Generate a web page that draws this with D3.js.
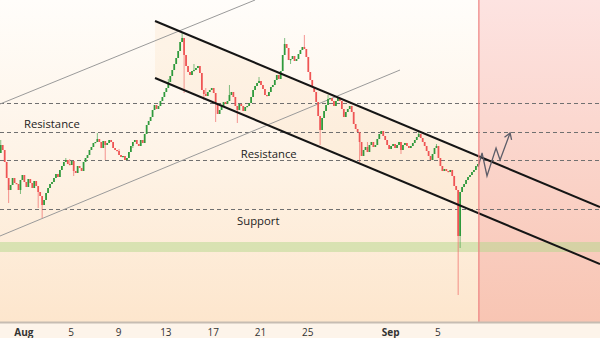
<!DOCTYPE html>
<html><head><meta charset="utf-8">
<script src="https://cdn.jsdelivr.net/npm/d3@7"></script>
<style>html,body{margin:0;padding:0;background:#fdf4ea;} svg{display:block;}</style>
</head><body><svg id="c" width="600" height="338"></svg>
<script>
// ---------------- DATA ----------------
const firstCandle = "2021-07-30T00:00";   // 4h candles
const candleHours = 4;
const firstOpen = 247;
const closes = [
255,250,238,222,210,215,222,217,216,210,220,225,218,213,221,217,212,219,214,208,
204,195,200,207,212,216,218,222,226,223,230,234,238,240,236,235,239,229,227,234,
232,229,238,242,245,250,253,257,258,261,258,252,259,255,257,260,258,252,250,249,
245,243,244,240,242,248,254,258,260,256,254,260,257,266,275,279,283,290,295,291,
294,299,303,308,312,318,324,330,336,342,349,358,362,345,334,328,325,329,330,332,
334,327,310,306,304,308,310,312,307,297,286,290,294,298,296,299,305,308,303,294,
290,296,294,289,293,294,297,303,310,314,317,319,315,311,305,304,308,313,315,320,
325,321,329,345,356,352,340,341,344,339,341,346,350,353,351,343,328,320,313,308,
298,284,270,282,289,295,301,302,299,294,299,302,299,291,283,288,291,294,288,276,
271,268,258,244,250,253,248,255,258,253,255,261,266,269,264,260,255,251,254,256,
252,255,258,250,255,257,254,252,254,257,260,263,266,262,258,254,249,244,240,246,
252,254,242,234,229,231,229,228,230,224,214,210,164,208,213,216,220,223,225,228,
230,234,236
];
const wickHighs = [[0,260],[12,224],[33,242],[35,241],[49,267],[60,251],[85,321],[92,368],[98,336],[104,312],[116,315],[131,323],[144,362],[154,365],[166,305],[186,258],[212,268],[221,256]];
const wickLows  = [[4,197],[10,206],[19,192],[21,182],[37,224],[53,240],[67,252],[93,307],[103,300],[109,278],[120,277],[147,336],[162,255],[182,238],[203,246],[232,105],[233,152]];

const levels = [297, 268, 240, 191];            // dashed horizontal levels
const supportZone = [148, 158];                   // green band (price range)
const channelUpper = [["2021-08-12T03:00", 379], ["2021-09-18T17:45", 193]];
const channelLower = [["2021-08-12T03:00", 322], ["2021-09-18T17:45", 136]];
const trendThin1 = [["2021-07-30T00:30", 296], ["2021-08-20T14:00", 400]];
const trendThin2 = [["2021-07-30T00:30", 164], ["2021-09-01T20:00", 330]];
const projection = [["2021-09-08T10:20",233],["2021-09-08T18:30",247],["2021-09-09T04:30",224],["2021-09-09T22:50",252],["2021-09-10T07:00",240],["2021-09-11T03:20",267]];
const forecastStart = "2021-09-08T12:00";
const textLabels = [
  {text:"Resistance", t:"2021-08-01T01:00", p:272},
  {text:"Resistance", t:"2021-08-19T09:00", p:242},
  {text:"Support",    t:"2021-08-19T01:30", p:175}
];
const tickDates  = ["2021-08-01","2021-08-05","2021-08-09","2021-08-13","2021-08-17","2021-08-21","2021-08-25","2021-09-01","2021-09-05"];
const tickLabels = ["Aug","5","9","13","17","21","25","Sep","5"];
const monthTicks = ["Aug","Sep"];

// ---------------- CHART ----------------
const W = 600, H = 338, plotH = 322;
const parse = s => new Date(s);
const svg = d3.select("#c");
const x = d3.scaleTime().domain([parse("2021-07-30T00:30"), parse("2021-09-18T17:45")]).range([0, W]);
const y = d3.scaleLinear().domain([78, 400]).range([plotH, 0]);

const defs = svg.append("defs");
const g1 = defs.append("linearGradient").attr("id","bgG").attr("x1",0).attr("y1",0).attr("x2",0).attr("y2",1);
g1.append("stop").attr("offset",0).attr("stop-color","#fffdfa");
g1.append("stop").attr("offset",0.5).attr("stop-color","#fef3e6");
g1.append("stop").attr("offset",1).attr("stop-color","#fde6cd");
const g2 = defs.append("linearGradient").attr("id","pkG").attr("x1",0).attr("y1",0).attr("x2",0).attr("y2",1);
g2.append("stop").attr("offset",0).attr("stop-color","#fde3e1");
g2.append("stop").attr("offset",1).attr("stop-color","#f8c5b3");
defs.append("clipPath").attr("id","clip").append("rect").attr("width",W).attr("height",plotH);

svg.append("rect").attr("width",W).attr("height",H).attr("fill","#fdf4ea");
svg.append("rect").attr("width",W).attr("height",plotH).attr("fill","url(#bgG)");
const xf = x(parse(forecastStart));
svg.append("rect").attr("x",xf).attr("y",0).attr("width",W-xf).attr("height",plotH).attr("fill","url(#pkG)");

const plot = svg.append("g").attr("clip-path","url(#clip)");

function lineAt(seg, t){
  const t0 = parse(seg[0][0]).getTime(), t1 = parse(seg[1][0]).getTime();
  return seg[0][1] + (seg[1][1]-seg[0][1])*(t - t0)/(t1 - t0);
}
// channel fill
const cs = parse(channelUpper[0][0]).getTime(), ce = parse(forecastStart).getTime();
const poly = [[cs, lineAt(channelUpper,cs)],[ce, lineAt(channelUpper,ce)],[ce, lineAt(channelLower,ce)],[cs, lineAt(channelLower,cs)]];
plot.append("path").attr("d","M"+poly.map(d=>[x(new Date(d[0])), y(d[1])].join(",")).join("L")+"Z")
  .attr("fill","#f8d4a8").attr("opacity",0.18);

// support band
plot.append("rect").attr("x",0).attr("width",W).attr("y",y(supportZone[1])).attr("height",y(supportZone[0])-y(supportZone[1]))
  .attr("fill","#b3d88c").attr("opacity",0.5);

// dashed levels
plot.selectAll(".lvl").data(levels).join("line").attr("x1",0).attr("x2",W)
  .attr("y1",d=>Math.round(y(d))+0.5).attr("y2",d=>Math.round(y(d))+0.5)
  .attr("stroke","#707070").attr("stroke-width",1).attr("stroke-dasharray","4,3");

// thin trend lines
[trendThin1, trendThin2].forEach(seg=>{
  plot.append("line").attr("x1",x(parse(seg[0][0]))).attr("y1",y(seg[0][1]))
    .attr("x2",x(parse(seg[1][0]))).attr("y2",y(seg[1][1]))
    .attr("stroke","#9a9a9a").attr("stroke-width",1);
});

// candles
const t0 = parse(firstCandle);
const candles = closes.map((c,i)=>{
  const o = i===0 ? firstOpen : closes[i-1];
  return {t: d3.timeHour.offset(t0, candleHours*i + candleHours/2), o, c, h: Math.max(o,c), l: Math.min(o,c)};
});
wickHighs.forEach(([i,p])=>{ candles[i].h = Math.max(candles[i].h, p); });
wickLows.forEach(([i,p])=>{ candles[i].l = Math.min(candles[i].l, p); });
const step = x(d3.timeHour.offset(t0, candleHours)) - x(t0);
const bw = step*0.88;
const up = "#2f9a3c", dn = "#ef5454";
const cg = plot.append("g");
cg.selectAll(".wk").data(candles).join("line")
  .attr("x1",d=>x(d.t)).attr("x2",d=>x(d.t)).attr("y1",d=>y(d.h)).attr("y2",d=>y(d.l))
  .attr("stroke",d=>d.c>=d.o?up:dn).attr("stroke-width",1).attr("opacity",0.6);
cg.selectAll(".bd").data(candles).join("rect")
  .attr("x",d=>x(d.t)-bw/2).attr("width",bw)
  .attr("y",d=>y(Math.max(d.o,d.c))).attr("height",d=>Math.max(1.2, Math.abs(y(d.o)-y(d.c))))
  .attr("fill",d=>d.c>=d.o?up:dn);

// channel lines
[channelUpper, channelLower].forEach(seg=>{
  plot.append("line").attr("x1",x(parse(seg[0][0]))).attr("y1",y(seg[0][1]))
    .attr("x2",x(parse(seg[1][0]))).attr("y2",y(seg[1][1]))
    .attr("stroke","#151515").attr("stroke-width",2);
});

// projection zigzag + arrow
const pts = projection.map(d=>[x(parse(d[0])), y(d[1])]);
plot.append("path").attr("d", d3.line()(pts)).attr("fill","none").attr("stroke","#5d5d68").attr("stroke-width",1.3);
const tip = pts[pts.length-1], prev = pts[pts.length-2];
const ang = Math.atan2(tip[1]-prev[1], tip[0]-prev[0]);
const al = 7, aa = Math.PI/5.5;
const a1 = [tip[0]-al*Math.cos(ang-aa), tip[1]-al*Math.sin(ang-aa)];
const a2 = [tip[0]-al*Math.cos(ang+aa), tip[1]-al*Math.sin(ang+aa)];
plot.append("path").attr("d", d3.line()([a1, tip, a2])).attr("fill","none").attr("stroke","#5d5d68").attr("stroke-width",1.3);

// texts
svg.selectAll(".lbl").data(textLabels).join("text")
  .attr("x",d=>x(parse(d.t))).attr("y",d=>y(d.p)).text(d=>d.text)
  .attr("font-family","'Open Sans', 'Noto Sans', sans-serif").attr("font-size",11.3).attr("fill","#1c1c1c");

// forecast divider
svg.append("line").attr("x1",xf).attr("x2",xf).attr("y1",0).attr("y2",plotH).attr("stroke","#ee7f7f").attr("stroke-width",1.2);

// axis
svg.append("line").attr("x1",0).attr("x2",W).attr("y1",plotH+0.5).attr("y2",plotH+0.5).attr("stroke","#c6bcb2").attr("stroke-width",2);
const axis = d3.axisBottom(x).tickValues(tickDates.map(d=>parse(d+"T00:00"))).tickSize(0)
  .tickFormat((d,i)=>tickLabels[i]);
const ag = svg.append("g").attr("transform",`translate(0,${plotH+1})`).call(axis);
ag.select(".domain").remove();
ag.selectAll("text").attr("dy","0").attr("y",13).attr("font-family","'Open Sans', 'Noto Sans', sans-serif")
  .attr("font-size",10).attr("fill","#333")
  .attr("font-weight",(d,i)=>monthTicks.includes(tickLabels[i])?"bold":"normal");
</script></body></html>
